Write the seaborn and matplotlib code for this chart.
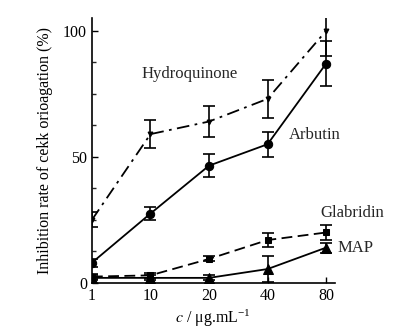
import numpy as np
import pandas as pd
import matplotlib
matplotlib.use("Agg")
import matplotlib.pyplot as plt
import seaborn as sns

sns.set_theme(style="ticks")
plt.rcParams["font.family"] = ["Liberation Serif", "DejaVu Serif"]
plt.rcParams["mathtext.fontset"] = "stix"

conc_labels = ["1", "10", "20", "40", "80"]

hydroquinone = [25, 59, 64, 73, 100]
hydroquinone_err = [3, 5.5, 6, 7.5, 10]
arbutin = [8, 27.5, 46.5, 55, 87]
arbutin_err = [1.5, 2.5, 4.5, 5, 9]
glabridin = [2.5, 3, 9.5, 17, 20]
glabridin_err = [1, 1, 1, 2.8, 3]
map_vals = [2, 2, 2, 5.5, 14]
map_err = [1, 1, 1, 5, 2]

series = {
    "Hydroquinone": (hydroquinone, hydroquinone_err, (0, (7, 3, 1.5, 3)), "v", 3.5),
    "Arbutin": (arbutin, arbutin_err, "-", "o", 6),
    "Glabridin": (glabridin, glabridin_err, (0, (6, 3)), "s", 5),
    "MAP": (map_vals, map_err, "-", "^", 7),
}

rows = []
for name, (vals, errs, *_rest) in series.items():
    for i, (v, e) in enumerate(zip(vals, errs)):
        rows.append({"series": name, "pos": i, "conc": conc_labels[i], "value": v, "err": e})
df = pd.DataFrame(rows)

fig = plt.figure(figsize=(4.14, 3.36), dpi=100)
ax = fig.add_axes([0.222, 0.158, 0.587, 0.788])

for name, (vals, errs, ls, mk, ms) in series.items():
    sub = df[df["series"] == name]
    sns.lineplot(data=sub, x="pos", y="value", ax=ax, color="black", lw=1.3,
                 linestyle=ls, marker=mk, markersize=ms, markeredgecolor="black",
                 markerfacecolor="black", legend=False)
    ax.errorbar(sub["pos"], sub["value"], yerr=sub["err"], fmt="none",
                ecolor="black", elinewidth=1.2, capsize=4, capthick=1.2)

ax.set_xlim(0, 4.15)
ax.set_ylim(0, 105)
ax.set_xticks(range(len(conc_labels)))
ax.set_xticklabels(conc_labels)
ax.set_yticks([0, 50, 100])
ax.set_yticks(np.arange(0, 105, 12.5), minor=True)
ax.tick_params(axis="both", direction="in", length=4, width=1, labelsize=11.5, colors="black")
ax.tick_params(axis="y", which="minor", direction="in", length=3, width=1)
for side in ("top", "right"):
    ax.spines[side].set_visible(False)
for side in ("left", "bottom"):
    ax.spines[side].set_linewidth(1.2)
    ax.spines[side].set_color("black")

ax.set_xlabel(r"$c$ / μg.mL$^{\mathregular{-1}}$", fontsize=11.5, labelpad=3, color="black")
ax.set_ylabel("Inhibition rate of cekk orioagation (%)", fontsize=11.5, labelpad=7, color="black")

ax.text(1.67, 83, "Hydroquinone", fontsize=12, ha="center", va="center")
ax.text(3.81, 58.5, "Arbutin", fontsize=12, ha="center", va="center")
ax.text(3.9, 27.7, "Glabridin", fontsize=12, ha="left", va="center", clip_on=False)
ax.text(4.2, 14, "MAP", fontsize=12, ha="left", va="center", clip_on=False)

fig.savefig("out.png", dpi=100)
